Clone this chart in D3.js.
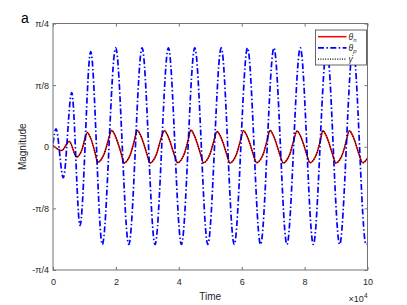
<!DOCTYPE html>
<html>
<head>
<meta charset="utf-8">
<script src="https://cdn.jsdelivr.net/npm/d3@7.9.0/dist/d3.min.js"></script>
<style>
  body { margin: 0; background: #fff; }
  svg { display: block; font-family: 'Liberation Sans', Arial, sans-serif; }
</style>
</head>
<body>
<div id="chart"></div>
<script>
// values: [time, magnitude (rad)]
const thetaP = [
  [0, 0.02], [950, 0.114], [3280, -0.197], [5950, 0.345], [8590, -0.502],
  [11990, 0.606], [15680, -0.623], [19940, 0.630], [24100, -0.623],
  [28330, 0.630], [32440, -0.623], [36700, 0.630], [40830, -0.623],
  [45090, 0.630], [49230, -0.623], [53490, 0.630], [57620, -0.623],
  [61850, 0.630], [65990, -0.623], [70250, 0.630], [74380, -0.623],
  [78640, 0.630], [82780, -0.623], [87040, 0.630], [91140, -0.623],
  [95400, 0.630], [99530, -0.623], [100000, -0.620]
];

const thetaN = [
  [0, 0.008], [2770, -0.024], [5180, 0.034], [7540, -0.066],
  [8380, -0.052], [9230, -0.017], [10070, 0.045], [10910, 0.091],
  [11740, 0.065], [12570, 0.020], [13390, -0.040], [14220, -0.100],
  [15280, -0.083], [16350, -0.042], [17410, 0.030], [18670, 0.104],
  [19670, 0.076], [20670, 0.022], [21670, -0.042], [22580, -0.104],
  [23640, -0.086], [24710, -0.043], [25770, 0.032], [26810, 0.104],
  [27810, 0.075], [28810, 0.021], [29810, -0.043], [30850, -0.104],
  [31910, -0.086], [32980, -0.043], [34040, 0.031], [35420, 0.102],
  [36420, 0.074], [37420, 0.021], [38420, -0.043], [39650, -0.102],
  [40710, -0.085], [41780, -0.043], [42840, 0.032], [43850, 0.106],
  [44850, 0.076], [45850, 0.022], [46850, -0.042], [47860, -0.102],
  [48920, -0.085], [49990, -0.043], [51050, 0.030], [52150, 0.097],
  [53150, 0.071], [54150, 0.020], [55150, -0.043], [56290, -0.104],
  [57350, -0.086], [58420, -0.043], [59480, 0.031], [60580, 0.102],
  [61580, 0.074], [62580, 0.021], [63580, -0.043], [64780, -0.102],
  [65840, -0.085], [66910, -0.043], [67970, 0.032], [69010, 0.104],
  [70010, 0.075], [71010, 0.021], [72010, -0.043], [73230, -0.104],
  [74290, -0.086], [75360, -0.043], [76420, 0.031], [77590, 0.100],
  [78590, 0.073], [79590, 0.021], [80590, -0.043], [81730, -0.102],
  [82790, -0.085], [83860, -0.043], [84920, 0.032], [85800, 0.102],
  [86800, 0.074], [87800, 0.021], [88800, -0.043], [89990, -0.104],
  [91050, -0.086], [92120, -0.043], [93180, 0.031], [94220, 0.102],
  [95220, 0.074], [96220, 0.021], [97220, -0.043], [98480, -0.102],
  [100000, -0.072]
];

// the dotted gamma-dot curve sits right on top of theta_n in the picture
const gammaDot = thetaN;

const xTicks = [0, 20000, 40000, 60000, 80000, 100000];
const xTickLabels = ['0', '2', '4', '6', '8', '10'];
const yTicks = [-Math.PI / 4, -Math.PI / 8, 0, Math.PI / 8, Math.PI / 4];
const yTickLabels = ['-\u03c0/4', '-\u03c0/8', '0', '\u03c0/8', '\u03c0/4'];

const width = 407;
const height = 305;
const margin = { top: 23.5, right: 39.5, bottom: 35, left: 53 };

const usableArea = {
  top: margin.top,
  right: width - margin.right,
  bottom: height - margin.bottom,
  left: margin.left,
};

const svg = d3.select('#chart').append('svg')
  .attr('width', width)
  .attr('height', height);

const xScale = d3.scaleLinear()
  .domain([0, 100000])
  .range([usableArea.left, usableArea.right]);

const yScale = d3.scaleLinear()
  .domain([-Math.PI / 4, Math.PI / 4])
  .range([usableArea.bottom, usableArea.top]);

const axisColor = '#737373';
const textColor = '#262626';
const blueDash = '6,2.4,1.5,2.4';

svg.append('clipPath').attr('id', 'plot-clip')
  .append('rect')
  .attr('x', usableArea.left)
  .attr('y', usableArea.top)
  .attr('width', usableArea.right - usableArea.left)
  .attr('height', usableArea.bottom - usableArea.top);

// series
const line = d3.line()
  .x(d => xScale(d[0]))
  .y(d => yScale(d[1]))
  .curve(d3.curveMonotoneX);

const lines = svg.append('g').attr('clip-path', 'url(#plot-clip)');

lines.append('path')
  .datum(thetaN)
  .attr('d', line)
  .attr('fill', 'none')
  .attr('stroke', '#ff0000')
  .attr('stroke-width', 1.5);

lines.append('path')
  .datum(thetaP)
  .attr('d', line)
  .attr('fill', 'none')
  .attr('stroke', '#0000ff')
  .attr('stroke-width', 1.7)
  .attr('stroke-dasharray', blueDash);

lines.append('path')
  .datum(gammaDot)
  .attr('d', line)
  .attr('fill', 'none')
  .attr('stroke', '#000')
  .attr('stroke-width', 1.2)
  .attr('stroke-dasharray', '1,1.4');

// axes
function styleAxis(g) {
  g.select('.domain').remove();
  g.selectAll('.tick line').attr('stroke', axisColor);
  g.selectAll('.tick text')
    .attr('fill', textColor)
    .style('font-size', '9px')
    .style('font-family', "'Liberation Sans', Arial, sans-serif");
}

svg.append('g')
  .attr('transform', `translate(0, ${usableArea.bottom})`)
  .call(d3.axisBottom(xScale)
    .tickValues(xTicks)
    .tickFormat((d, i) => xTickLabels[i])
    .tickSizeInner(-3).tickSizeOuter(0).tickPadding(9))
  .call(styleAxis);

svg.append('g')
  .attr('transform', `translate(0, ${usableArea.top})`)
  .call(d3.axisTop(xScale)
    .tickValues(xTicks)
    .tickFormat('')
    .tickSizeInner(-3).tickSizeOuter(0))
  .call(styleAxis);

svg.append('g')
  .attr('transform', `translate(${usableArea.left}, 0)`)
  .call(d3.axisLeft(yScale)
    .tickValues(yTicks)
    .tickFormat((d, i) => yTickLabels[i])
    .tickSizeInner(-3).tickSizeOuter(0).tickPadding(4))
  .call(styleAxis);

svg.append('g')
  .attr('transform', `translate(${usableArea.right}, 0)`)
  .call(d3.axisRight(yScale)
    .tickValues(yTicks)
    .tickFormat('')
    .tickSizeInner(-3).tickSizeOuter(0))
  .call(styleAxis);

svg.append('rect')
  .attr('x', usableArea.left)
  .attr('y', usableArea.top)
  .attr('width', usableArea.right - usableArea.left)
  .attr('height', usableArea.bottom - usableArea.top)
  .attr('fill', 'none')
  .attr('stroke', axisColor)
  .attr('stroke-width', 1);

// labels
svg.append('text')
  .attr('x', (usableArea.left + usableArea.right) / 2)
  .attr('y', 299.5)
  .attr('text-anchor', 'middle')
  .attr('fill', textColor)
  .style('font-size', '10px')
  .text('Time');

const expo = svg.append('text')
  .attr('x', usableArea.right)
  .attr('y', 302)
  .attr('text-anchor', 'end')
  .attr('fill', textColor)
  .style('font-size', '9px');
expo.append('tspan').text('\u00d710');
expo.append('tspan').attr('dy', -4).style('font-size', '6.5px').text('4');

svg.append('text')
  .attr('transform', `translate(26, ${yScale(0)}) rotate(-90)`)
  .attr('text-anchor', 'middle')
  .attr('fill', textColor)
  .style('font-size', '10px')
  .text('Magnitude');

svg.append('text')
  .attr('x', 21)
  .attr('y', 23)
  .attr('fill', '#000')
  .style('font-size', '14px')
  .text('a');

// legend
const legendItems = [
  { sub: 'n', name: '\u03b8', color: '#ff0000', dash: null, w: 1.5 },
  { sub: 'p', name: '\u03b8', color: '#0000ff', dash: blueDash, w: 1.7 },
  { sub: '', name: '\u03b3\u0307', color: '#000', dash: '1,1.4', w: 1.2 },
];

const legend = svg.append('g').attr('transform', 'translate(315.5, 30)');

legend.append('rect')
  .attr('width', 51)
  .attr('height', 35)
  .attr('fill', '#fff')
  .attr('stroke', '#404040')
  .attr('stroke-width', 0.8);

const li = legend.selectAll('g.item')
  .data(legendItems)
  .join('g')
  .attr('class', 'item')
  .attr('transform', (d, i) => `translate(0, ${6.7 + i * 11.2})`);

li.append('line')
  .attr('x1', 2.5)
  .attr('x2', 31)
  .attr('stroke', d => d.color)
  .attr('stroke-width', d => d.w)
  .attr('stroke-dasharray', d => d.dash);

const lt = li.append('text')
  .attr('x', 33)
  .attr('y', 3)
  .attr('fill', textColor)
  .style('font-size', '8.5px')
  .style('font-style', 'italic');
lt.append('tspan').text(d => d.name);
lt.append('tspan')
  .attr('dy', 2)
  .style('font-size', '6px')
  .text(d => d.sub);
</script>
</body>
</html>
